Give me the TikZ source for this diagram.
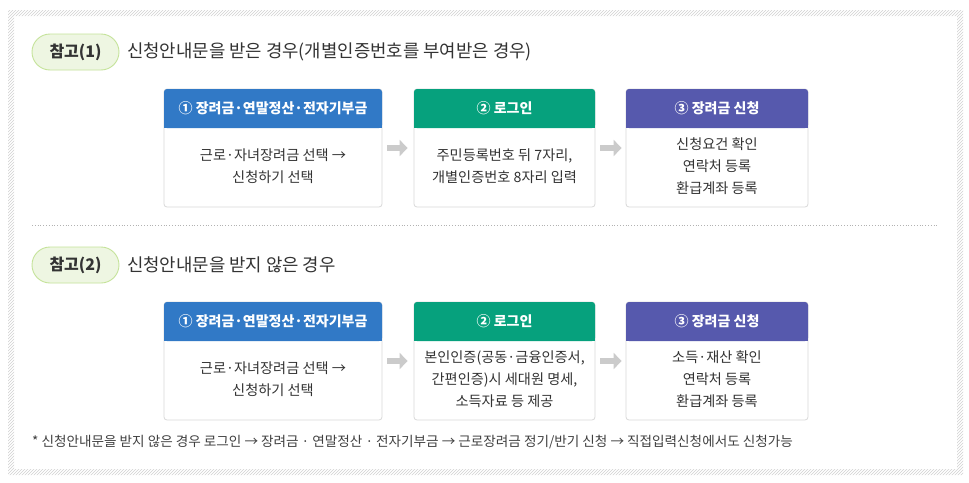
\documentclass[tikz,border=0pt]{standalone}
\usepackage{fontspec}
\setmainfont{Noto Sans CJK KR}
\usetikzlibrary{patterns,arrows.meta}
\definecolor{hblue}{HTML}{3179C6}
\definecolor{hgreen}{HTML}{06A17D}
\definecolor{hpurple}{HTML}{5659AD}
\definecolor{txt}{HTML}{333333}
\definecolor{pillfill}{HTML}{EEF6E2}
\definecolor{pillline}{HTML}{C5E39A}
\definecolor{boxline}{HTML}{D9D9D9}
\definecolor{arrowgray}{HTML}{CBCBCB}
\tikzset{
  frame/.style={draw=boxline, fill=white, rounded corners=3pt, inner sep=0pt, line width=0.8pt},
  head/.style={rounded corners=3pt, inner sep=0pt, minimum height=39pt, text=white, font=\fontsize{14}{16}\selectfont\bfseries},
  bodytxt/.style={align=center, text=txt, font=\fontsize{14.2}{22}\selectfont, inner sep=0pt},
  pill/.style={draw=pillline, fill=pillfill, rounded corners=18pt, minimum width=87pt, minimum height=36pt, line width=0.9pt, text=txt, font=\fontsize{16}{18}\selectfont\bfseries},
  title/.style={anchor=west, text=txt, font=\fontsize{17.8}{20}\selectfont, inner sep=0pt},
  flow/.style={draw=arrowgray, line width=6pt, -{Triangle[length=8pt,width=16pt]}}
}
\begin{document}
\begin{tikzpicture}[x=1pt,y=-1pt]
\useasboundingbox (0,0) rectangle (969,482);
\fill[white] (0,0) rectangle (969,482);
\fill[pattern=north east lines, pattern color=black!18, even odd rule] (8,10) rectangle (963,475) (14,16) rectangle (957,469);

% section 1
\node[pill] (p1) at (75.5,52) {참고(1)};
\node[title] (t1) at (127,52) {신청안내문을 받은 경우(개별인증번호를 부여받은 경우)};

\node[frame, minimum width=218pt, minimum height=118pt] (f11) at (273,148) {};
\node[frame, minimum width=181pt, minimum height=118pt] (f12) at (504.5,148) {};
\node[frame, minimum width=182pt, minimum height=118pt] (f13) at (717,148) {};

\node[head, fill=hblue, minimum width=218pt] (h11) at (273,108.5) {① 장려금·연말정산·전자기부금};
\node[head, fill=hgreen, minimum width=181pt] (h12) at (504.5,108.5) {② 로그인};
\node[head, fill=hpurple, minimum width=182pt] (h13) at (717,108.5) {③ 장려금 신청};
\fill[hblue] ([yshift=5pt]h11.south west) rectangle (h11.south east);
\fill[hgreen] ([yshift=5pt]h12.south west) rectangle (h12.south east);
\fill[hpurple] ([yshift=5pt]h13.south west) rectangle (h13.south east);

\node[bodytxt] (b11) at (273,166) {근로·자녀장려금 선택 →\\신청하기 선택};
\node[bodytxt] (b12) at (504.5,166) {주민등록번호 뒤 7자리,\\개별인증번호 8자리 입력};
\node[bodytxt] (b13) at (717,166) {신청요건 확인\\연락처 등록\\환급계좌 등록};

\draw[flow] ([xshift=5pt]f11.east) -- ([xshift=-6pt]f12.west);
\draw[flow] ([xshift=5pt]f12.east) -- ([xshift=-4pt]f13.west);

% separator
\coordinate (s1) at (32,225);
\coordinate (s2) at (938,225);
\draw[black!30, dotted, line width=0.8pt] (s1) -- (s2);

% section 2
\node[pill] (p2) at (75.5,265) {참고(2)};
\node[title] (t2) at (127,265) {신청안내문을 받지 않은 경우};

\node[frame, minimum width=218pt, minimum height=118pt] (f21) at (273,361) {};
\node[frame, minimum width=181pt, minimum height=118pt] (f22) at (504.5,361) {};
\node[frame, minimum width=182pt, minimum height=118pt] (f23) at (717,361) {};

\node[head, fill=hblue, minimum width=218pt] (h21) at (273,321.5) {① 장려금·연말정산·전자기부금};
\node[head, fill=hgreen, minimum width=181pt] (h22) at (504.5,321.5) {② 로그인};
\node[head, fill=hpurple, minimum width=182pt] (h23) at (717,321.5) {③ 장려금 신청};
\fill[hblue] ([yshift=5pt]h21.south west) rectangle (h21.south east);
\fill[hgreen] ([yshift=5pt]h22.south west) rectangle (h22.south east);
\fill[hpurple] ([yshift=5pt]h23.south west) rectangle (h23.south east);

\node[bodytxt] (b21) at (273,379) {근로·자녀장려금 선택 →\\신청하기 선택};
\node[bodytxt] (b22) at (504.5,379) {본인인증(공동·금융인증서,\\간편인증)시 세대원 명세,\\소득자료 등 제공};
\node[bodytxt] (b23) at (717,379) {소득·재산 확인\\연락처 등록\\환급계좌 등록};

\draw[flow] ([xshift=5pt]f21.east) -- ([xshift=-6pt]f22.west);
\draw[flow] ([xshift=5pt]f22.east) -- ([xshift=-4pt]f23.west);

% footnote
\node[anchor=west, inner sep=0pt, text=black!75, font=\fontsize{13.6}{15}\selectfont] (fn) at (32,442) {* 신청안내문을 받지 않은 경우 로그인 → 장려금 · 연말정산 · 전자기부금 → 근로장려금 정기/반기 신청 → 직접입력신청에서도 신청가능};
\end{tikzpicture}
\end{document}
